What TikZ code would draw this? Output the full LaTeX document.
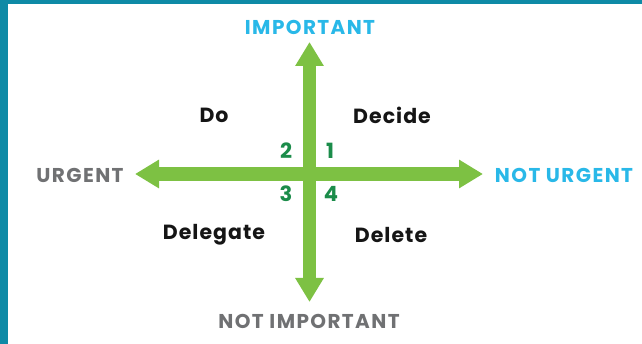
\documentclass[tikz,border=0pt]{standalone}
\usepackage{fontspec}
\setmainfont{Poppins}
\newfontfamily\capsfont{Poppins}[LetterSpace=7]
\newfontfamily\quadfont{Poppins}[LetterSpace=5]
\usetikzlibrary{arrows.meta}
\definecolor{frame}{HTML}{0E8AA6}
\definecolor{axisgreen}{HTML}{7DC143}
\definecolor{numgreen}{HTML}{1B8C4A}
\definecolor{lblue}{HTML}{29B8E8}
\definecolor{lgray}{HTML}{707173}
\definecolor{lblack}{HTML}{151515}
\begin{document}
\begin{tikzpicture}[x=1pt,y=-1pt,
  axis/.style={draw=axisgreen,line width=13.5pt,
    {Triangle[width=27pt,length=24pt]}-{Triangle[width=27pt,length=24pt]}},
  bluelbl/.style={text=lblue,font=\capsfont\fontsize{20}{20}\selectfont\bfseries,inner sep=0pt},
  graylbl/.style={text=lgray,font=\capsfont\fontsize{20}{20}\selectfont\bfseries,inner sep=0pt},
  quad/.style={text=lblack,font=\quadfont\fontsize{20.5}{20.5}\selectfont\bfseries,inner sep=0pt},
  num/.style={text=numgreen,font=\fontsize{21}{21}\selectfont\bfseries,inner sep=0pt}]
\fill[frame] (0,0) rectangle (642,344);
\fill[white] (8,4) rectangle (642,344);
\useasboundingbox (0,0) rectangle (642,344);
\coordinate (top) at (309.5,42);
\coordinate (bot) at (309.5,302);
\coordinate (lft) at (135,174);
\coordinate (rgt) at (483,174);
\draw[axis] (bot) -- (top);
\draw[axis] (lft) -- (rgt);
\node[bluelbl] (imp) at (310,27) {IMPORTANT};
\node[graylbl] (nimp) at (309,321) {NOT IMPORTANT};
\node[graylbl] (urg) at (80,175) {URGENT};
\node[bluelbl] (nurg) at (564,175) {NOT URGENT};
\node[quad] (do) at (214,115) {Do};
\node[quad] (decide) at (392,115) {Decide};
\node[quad] (delegate) at (214,235) {Delegate};
\node[quad] (delete) at (391,235) {Delete};
\node[num] (n2) at (286,151) {2};
\node[num] (n1) at (330,151) {1};
\node[num] (n3) at (286,194) {3};
\node[num] (n4) at (331,194) {4};
\end{tikzpicture}
\end{document}
